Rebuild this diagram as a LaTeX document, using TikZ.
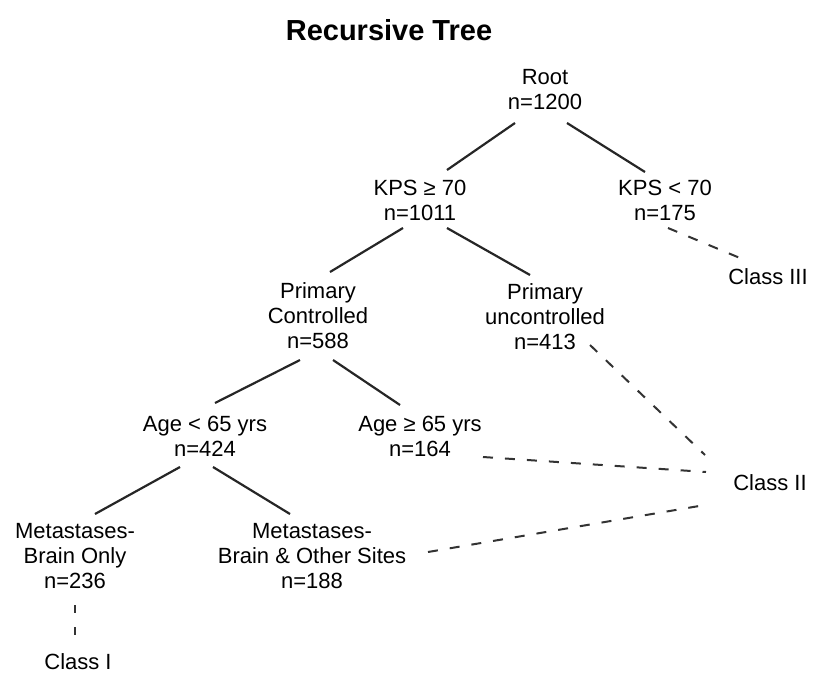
\documentclass[tikz,border=0pt]{standalone}
\usepackage{fontspec}
\setmainfont{Liberation Sans}
\begin{document}
\begin{tikzpicture}[x=1pt,y=-1pt,
  lbl/.style={align=center,inner sep=0pt,font=\fontsize{22}{25}\selectfont},
  edge/.style={line width=2.2pt,draw=black!85},
  dedge/.style={line width=2pt,draw=black!80,dash pattern=on 10pt off 12pt}]
\useasboundingbox (0,0) rectangle (817,678);
\node[font=\bfseries\fontsize{29}{32}\selectfont,inner sep=0pt] (title) at (389,30) {Recursive Tree};
\node[lbl] (root) at (545,90) {Root\\n=1200};
\node[lbl] (kpsA) at (420,200) {KPS ≥ 70\\n=1011};
\node[lbl] (kpsB) at (665,200) {KPS < 70\\n=175};
\node[lbl] (c3) at (768,277) {Class III};
\node[lbl] (pc) at (318,316) {Primary\\Controlled\\n=588};
\node[lbl] (pu) at (545,317) {Primary\\uncontrolled\\n=413};
\node[lbl] (c2) at (770,483) {Class II};
\node[lbl] (age1) at (205,436) {Age < 65 yrs\\n=424};
\node[lbl] (age2) at (420,436) {Age ≥ 65 yrs\\n=164};
\node[lbl] (m1) at (75,556) {Metastases-\\Brain Only\\n=236};
\node[lbl] (m2) at (312,556) {Metastases-\\Brain \& Other Sites\\n=188};
\node[lbl] (c1) at (78,662) {Class I};
% solid edges
\draw[edge] ([shift={(-30pt,-33pt)}]root.center) -- ([shift={(27pt,30pt)}]kpsA.center);
\draw[edge] ([shift={(22pt,-33pt)}]root.center) -- ([shift={(-20pt,28pt)}]kpsB.center);
\draw[edge] ([shift={(-17pt,-28pt)}]kpsA.center) -- ([shift={(12pt,44pt)}]pc.center);
\draw[edge] ([shift={(27pt,-28pt)}]kpsA.center) -- ([shift={(-15pt,42pt)}]pu.center);
\draw[edge] ([shift={(-18pt,-44pt)}]pc.center) -- ([shift={(10pt,33pt)}]age1.center);
\draw[edge] ([shift={(15pt,-44pt)}]pc.center) -- ([shift={(-20pt,31pt)}]age2.center);
\draw[edge] ([shift={(-25pt,-31pt)}]age1.center) -- ([shift={(20pt,42pt)}]m1.center);
\draw[edge] ([shift={(8pt,-31pt)}]age1.center) -- ([shift={(-22pt,42pt)}]m2.center);
% dashed edges
\draw[dedge] ([shift={(3pt,-28pt)}]kpsB.center) -- ([shift={(-28pt,19pt)}]c3.center);
\draw[dedge] ([shift={(45pt,-28pt)}]pu.center) -- ([shift={(-65pt,28pt)}]c2.center);
\draw[dedge] ([shift={(63pt,-21pt)}]age2.center) -- ([shift={(-64pt,11pt)}]c2.center);
\draw[dedge] ([shift={(116pt,4pt)}]m2.center) -- ([shift={(-65pt,-22pt)}]c2.center);
\draw[dedge,dash pattern=on 8pt off 14pt] ([shift={(0pt,-49pt)}]m1.center) -- ([shift={(-3pt,27pt)}]c1.center);
\end{tikzpicture}
\end{document}
